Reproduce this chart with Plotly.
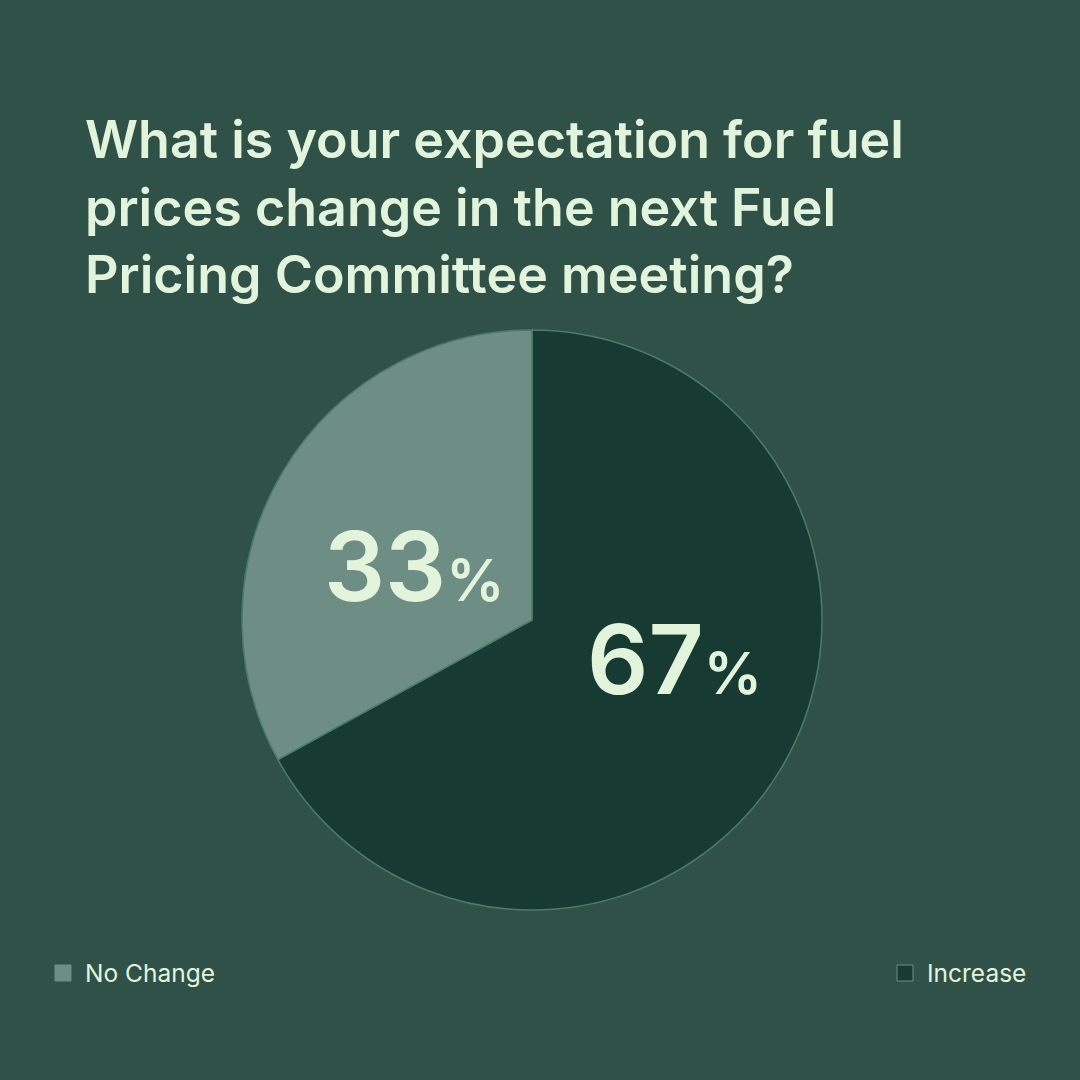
import math
import plotly.graph_objects as go

# survey answers
labels = ["Increase", "No Change"]
values = [67, 33]
colors = ["#173a32", "#6e8d85"]

title = ("What is your expectation for fuel<br>"
         "prices change in the next Fuel<br>"
         "Pricing Committee meeting?")

bg = "#2f5148"
txt = "#e3f4dd"
W = H = 1080

# pie placement (pixels)
cx, cy, R = 532, 620, 290

fig = go.Figure()
fig.add_trace(go.Pie(
    labels=labels,
    values=values,
    sort=False,
    direction="clockwise",
    rotation=0,
    marker=dict(colors=colors, line=dict(color="#4d7a6b", width=1.5)),
    textinfo="none",
    domain=dict(x=[(cx - R) / W, (cx + R) / W], y=[1 - (cy + R) / H, 1 - (cy - R) / H]),
    hoverinfo="skip",
    showlegend=False,
))

# big percentage labels, placed on each slice's mid angle
label_frac = {"Increase": 0.5, "No Change": 0.45}
label_nudge = {"Increase": (18, -35), "No Change": (-6, 12)}
total = sum(values)
start = 90.0
for lab, val in zip(labels, values):
    sweep = 360.0 * val / total
    mid = math.radians(start - sweep / 2)
    start -= sweep
    r = R * label_frac[lab]
    px_ = cx + r * math.cos(mid) + label_nudge[lab][0]
    py_ = cy - r * math.sin(mid) + label_nudge[lab][1]
    fig.add_annotation(
        x=px_ / W, y=1 - py_ / H, xref="paper", yref="paper",
        xanchor="center", yanchor="middle", showarrow=False,
        text=f"{val}<span style='font-size:58px'>%</span>",
        font=dict(family="Inter", size=96, color=txt, weight=600),
    )

# legend: left and right corners
legend_pos = {"No Change": (55, "#6e8d85", "#6e8d85"), "Increase": (897, "#173a32", "#6e8d85")}
for lab in ["No Change", "Increase"]:
    x0, fill, edge = legend_pos[lab]
    fig.add_shape(type="rect", xref="paper", yref="paper",
                  x0=x0 / W, x1=(x0 + 16) / W, y0=1 - 981 / H, y1=1 - 965 / H,
                  fillcolor=fill, line=dict(color=edge, width=1))
    fig.add_annotation(x=(x0 + 28) / W, y=1 - 973 / H, xref="paper", yref="paper",
                       xanchor="left", yanchor="middle", showarrow=False, text=lab,
                       font=dict(family="Inter", size=24.5, color=txt))

fig.update_layout(
    width=W, height=H,
    margin=dict(l=0, r=0, t=0, b=0),
    paper_bgcolor=bg,
    plot_bgcolor=bg,
    title=dict(
        text=title,
        x=85 / W, xanchor="left",
        y=1 - 158 / H, yanchor="top",
        font=dict(family="Inter", size=52, color=txt, weight=600),
    ),
)

fig.write_html("out.html", config={"displayModeBar": False},
               post_script="document.body.style.margin='0';")
